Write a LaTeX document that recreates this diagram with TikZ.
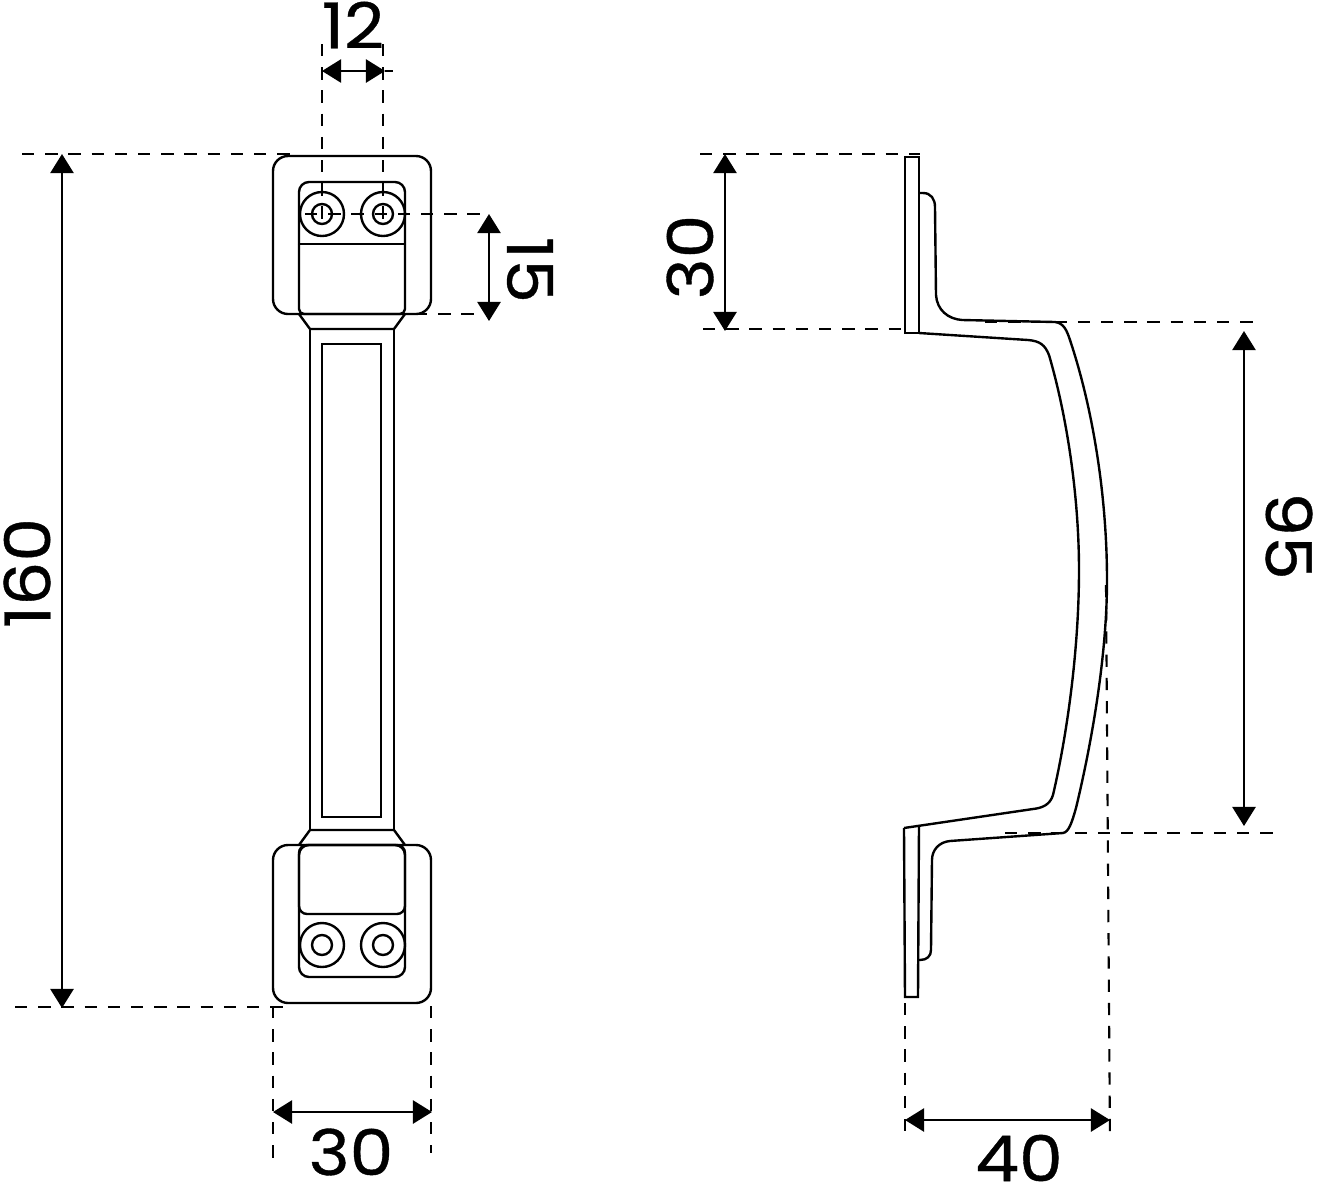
\documentclass[tikz,border=0pt]{standalone}
\usepackage{fontspec}
\setmainfont[FakeStretch=1.1,FakeBold=0.6]{Poppins}
\usetikzlibrary{arrows.meta}
\begin{document}
\begin{tikzpicture}[x=0.01cm,y=-0.01cm,line width=0.68pt,
  >={Triangle[length=0.19cm,width=0.23cm]},
  dashline/.style={line width=0.6pt,dash pattern=on 3.5pt off 3.1pt},
  dimtext/.style={font=\fontsize{18pt}{20pt}\selectfont,inner sep=0pt}]
\useasboundingbox (0,0) rectangle (1320,1184);

% front view, upper plate
\draw [rounded corners=0.15cm] (273,156) rectangle (431,314);
\draw [rounded corners=0.1cm] (299,244) -- (299,182) -- (405,182) -- (405,244);
\draw (299,244) -- (405,244);
\draw [rounded corners=0.05cm] (299,244) -- (299,314) -- (405,314) -- (405,244);
\draw (322,214) circle (22);
\draw (322,214) circle (10);
\draw (383,214) circle (22);
\draw (383,214) circle (10);

% front view, bar
\draw (299,314) -- (310,329) -- (394,329) -- (405,314);
\draw (310,329) -- (310,830);
\draw (394,329) -- (394,830);
\draw (322,344) rectangle (381,817);
\draw (299,845) -- (310,830) -- (394,830) -- (405,845);

% front view, lower plate
\draw [rounded corners=0.15cm] (273,845) rectangle (431,1003);
\draw [rounded corners=0.1cm] (299,845) rectangle (405,977);
\draw [rounded corners=0.08cm] (299,845) rectangle (405,914);
\draw (322,945) circle (22);
\draw (322,945) circle (10);
\draw (383,945) circle (22);
\draw (383,945) circle (10);

% side view
\draw (905,157) -- (919,157) -- (919,333) -- (905,333) -- cycle;
\draw (919,193) -- (923,193) .. controls (931,193) and (935,199) .. (935,207) -- (936,295) .. controls (937,310) and (948,319) .. (962,320) -- (1055,322) .. controls (1064,323) and (1067,331) .. (1070,340) .. controls (1094,412) and (1107,500) .. (1107,580) .. controls (1107,660) and (1090,750) .. (1076,808) .. controls (1072,822) and (1069,832) .. (1063,833) -- (950,841) .. controls (939,842) and (932,850) .. (932,860) -- (931,950) .. controls (931,956) and (927,960) .. (920,960) -- (918,960);
\draw (919,333) -- (1028,340) .. controls (1040,341) and (1045,345) .. (1049,355) .. controls (1068,420) and (1079,500) .. (1079,570) .. controls (1079,650) and (1067,735) .. (1053,795) .. controls (1050,805) and (1042,808) .. (1033,809) -- (904,828);
\draw (904,828) -- (905,997) -- (918,997) -- (919,826);

% dimensions of the front view
\draw [dashline] (322,44) -- (322,222);
\draw [dashline] (383,44) -- (383,222);
\draw [<->] (322,71) -- (385,71);
\draw (385,71) -- (393,71);
\node [dimtext] (lenholes) at (353,25) {12};

\draw [dashline] (22,154) -- (295,154);
\draw [dashline] (15,1007) -- (288,1007);
\draw [<->] (62,154) -- (62,1008);
\node [dimtext,rotate=90] (lenfront) at (27,573) {160};

\draw [dashline] (305,214) -- (487,214);
\draw [dashline] (415,314) -- (482,314);
\draw [<->] (489,214) -- (489,321);
\node [dimtext,rotate=-90] (lenplate) at (530,270) {15};

\draw [dashline] (273,1006) -- (273,1158);
\draw [dashline] (431,1006) -- (431,1153);
\draw [<->] (273,1112) -- (432,1112);
\node [dimtext] (widefront) at (351,1152) {30};

% dimensions of the side view
\draw [dashline] (700,154) -- (920,154);
\draw [dashline] (703,329) -- (905,329);
\draw [<->] (725,154) -- (725,331);
\node [dimtext,rotate=90] (lenside) at (690,257) {30};

\draw [dashline] (985,322) -- (1258,322);
\draw [dashline] (1005,833) -- (1280,833);
\draw [<->] (1244,331) -- (1244,826);
\node [dimtext,rotate=-90] (lencurve) at (1289,536) {95};

\draw [dashline] (905,1003) -- (905,1137);
\draw [dashline] (1106,585) -- (1110,1140);
\draw [<->] (905,1120) -- (1110,1120);
\node [dimtext] (depthside) at (1019,1158) {40};
\end{tikzpicture}
\end{document}
